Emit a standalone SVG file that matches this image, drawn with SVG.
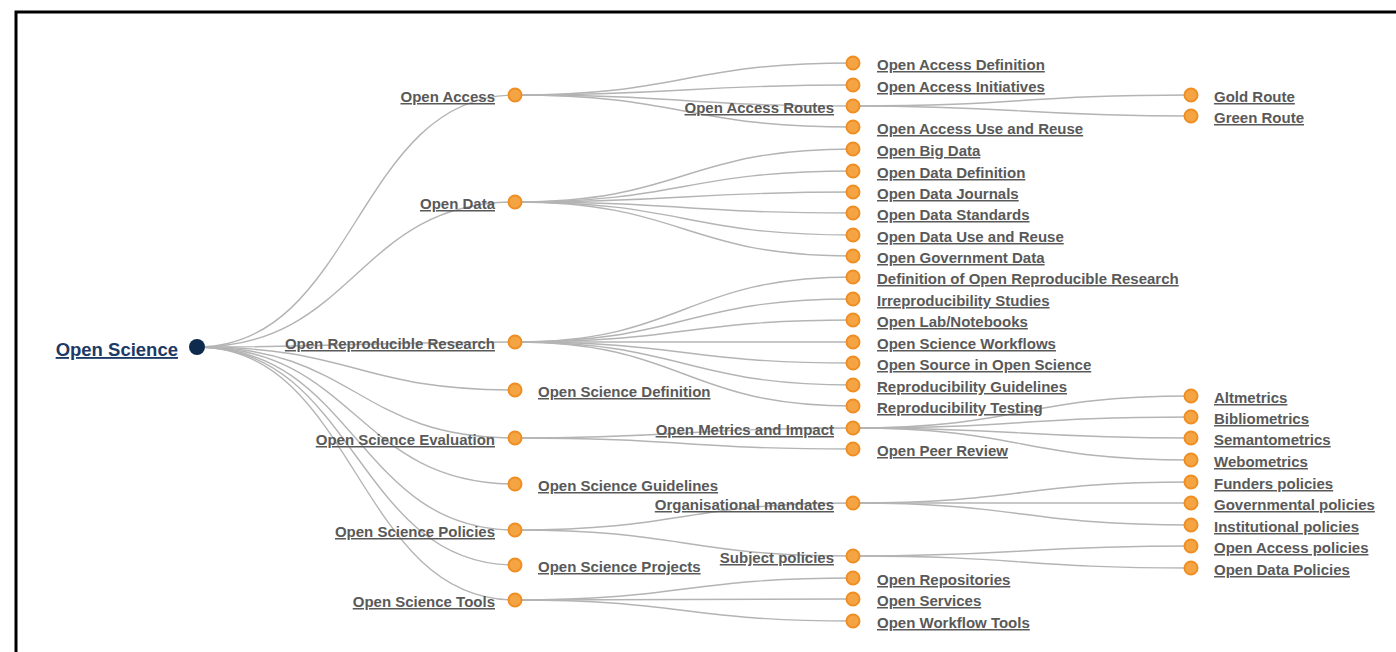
<svg xmlns="http://www.w3.org/2000/svg" width="1396" height="652" viewBox="0 0 1396 652">
<style>
.lk{fill:none;stroke:#b4b4b4;stroke-width:1.4}
.n circle{fill:#f5a443;stroke:#ef8e22;stroke-width:2}
.n text{font-family:"Liberation Sans",Arial,sans-serif;font-size:15px;font-weight:bold;fill:#595959;text-decoration:underline}
.l{text-anchor:start}
.r{text-anchor:end}
</style>
<rect x="0" y="0" width="1396" height="652" fill="#fff"/>
<path d="M16,652 V12 H1396" fill="none" stroke="#000" stroke-width="3"/>
<g id="connectors">
<path class="lk" d="M197,347 C356,347 356,95 515,95"/>
<path class="lk" d="M197,347 C356,347 356,202 515,202"/>
<path class="lk" d="M197,347 C356,347 356,342 515,342"/>
<path class="lk" d="M197,347 C356,347 356,390 515,390"/>
<path class="lk" d="M197,347 C356,347 356,438 515,438"/>
<path class="lk" d="M197,347 C356,347 356,484 515,484"/>
<path class="lk" d="M197,347 C356,347 356,530 515,530"/>
<path class="lk" d="M197,347 C356,347 356,565 515,565"/>
<path class="lk" d="M197,347 C356,347 356,600 515,600"/>
<path class="lk" d="M515,95 C684,95 684,63 853,63"/>
<path class="lk" d="M515,95 C684,95 684,85 853,85"/>
<path class="lk" d="M515,95 C684,95 684,106 853,106"/>
<path class="lk" d="M515,95 C684,95 684,127 853,127"/>
<path class="lk" d="M853,106 C1022,106 1022,95 1191,95"/>
<path class="lk" d="M853,106 C1022,106 1022,116 1191,116"/>
<path class="lk" d="M515,202 C684,202 684,149 853,149"/>
<path class="lk" d="M515,202 C684,202 684,171 853,171"/>
<path class="lk" d="M515,202 C684,202 684,192 853,192"/>
<path class="lk" d="M515,202 C684,202 684,213 853,213"/>
<path class="lk" d="M515,202 C684,202 684,235 853,235"/>
<path class="lk" d="M515,202 C684,202 684,256 853,256"/>
<path class="lk" d="M515,342 C684,342 684,277 853,277"/>
<path class="lk" d="M515,342 C684,342 684,299 853,299"/>
<path class="lk" d="M515,342 C684,342 684,320 853,320"/>
<path class="lk" d="M515,342 C684,342 684,342 853,342"/>
<path class="lk" d="M515,342 C684,342 684,363 853,363"/>
<path class="lk" d="M515,342 C684,342 684,385 853,385"/>
<path class="lk" d="M515,342 C684,342 684,406 853,406"/>
<path class="lk" d="M515,438 C684,438 684,428 853,428"/>
<path class="lk" d="M515,438 C684,438 684,449 853,449"/>
<path class="lk" d="M853,428 C1022,428 1022,396 1191,396"/>
<path class="lk" d="M853,428 C1022,428 1022,417 1191,417"/>
<path class="lk" d="M853,428 C1022,428 1022,438 1191,438"/>
<path class="lk" d="M853,428 C1022,428 1022,460 1191,460"/>
<path class="lk" d="M515,530 C684,530 684,503 853,503"/>
<path class="lk" d="M515,530 C684,530 684,556 853,556"/>
<path class="lk" d="M853,503 C1022,503 1022,482 1191,482"/>
<path class="lk" d="M853,503 C1022,503 1022,503 1191,503"/>
<path class="lk" d="M853,503 C1022,503 1022,525 1191,525"/>
<path class="lk" d="M853,556 C1022,556 1022,546 1191,546"/>
<path class="lk" d="M853,556 C1022,556 1022,568 1191,568"/>
<path class="lk" d="M515,600 C684,600 684,578 853,578"/>
<path class="lk" d="M515,600 C684,600 684,599 853,599"/>
<path class="lk" d="M515,600 C684,600 684,621 853,621"/>
</g>
<g id="root">
<circle cx="197" cy="347" r="8" fill="#0e2a4d"/>
<text x="178" y="356" text-anchor="end" font-family="Liberation Sans,Arial,sans-serif" font-size="18.5" font-weight="bold" fill="#1d3a66" text-decoration="underline">Open Science</text>
</g>
<g id="n-open-access" class="n"><circle cx="515" cy="95" r="6.5"/><text class="r" x="495" y="102">Open Access</text></g>
<g id="n-open-data" class="n"><circle cx="515" cy="202" r="6.5"/><text class="r" x="495" y="209">Open Data</text></g>
<g id="n-orr" class="n"><circle cx="515" cy="342" r="6.5"/><text class="r" x="495" y="349">Open Reproducible Research</text></g>
<g id="n-osd" class="n"><circle cx="515" cy="390" r="6.5"/><text class="l" x="538" y="397">Open Science Definition</text></g>
<g id="n-ose" class="n"><circle cx="515" cy="438" r="6.5"/><text class="r" x="495" y="445">Open Science Evaluation</text></g>
<g id="n-osg" class="n"><circle cx="515" cy="484" r="6.5"/><text class="l" x="538" y="491">Open Science Guidelines</text></g>
<g id="n-osp" class="n"><circle cx="515" cy="530" r="6.5"/><text class="r" x="495" y="537">Open Science Policies</text></g>
<g id="n-ospr" class="n"><circle cx="515" cy="565" r="6.5"/><text class="l" x="538" y="572">Open Science Projects</text></g>
<g id="n-ost" class="n"><circle cx="515" cy="600" r="6.5"/><text class="r" x="495" y="607">Open Science Tools</text></g>
<g id="n-oad" class="n"><circle cx="853" cy="63" r="6.5"/><text class="l" x="877" y="70">Open Access Definition</text></g>
<g id="n-oai" class="n"><circle cx="853" cy="85" r="6.5"/><text class="l" x="877" y="92">Open Access Initiatives</text></g>
<g id="n-oar" class="n"><circle cx="853" cy="106" r="6.5"/><text class="r" x="834" y="113">Open Access Routes</text></g>
<g id="n-oau" class="n"><circle cx="853" cy="127" r="6.5"/><text class="l" x="877" y="134">Open Access Use and Reuse</text></g>
<g id="n-obd" class="n"><circle cx="853" cy="149" r="6.5"/><text class="l" x="877" y="156">Open Big Data</text></g>
<g id="n-odd" class="n"><circle cx="853" cy="171" r="6.5"/><text class="l" x="877" y="178">Open Data Definition</text></g>
<g id="n-odj" class="n"><circle cx="853" cy="192" r="6.5"/><text class="l" x="877" y="199">Open Data Journals</text></g>
<g id="n-ods" class="n"><circle cx="853" cy="213" r="6.5"/><text class="l" x="877" y="220">Open Data Standards</text></g>
<g id="n-odu" class="n"><circle cx="853" cy="235" r="6.5"/><text class="l" x="877" y="242">Open Data Use and Reuse</text></g>
<g id="n-ogd" class="n"><circle cx="853" cy="256" r="6.5"/><text class="l" x="877" y="263">Open Government Data</text></g>
<g id="n-dorr" class="n"><circle cx="853" cy="277" r="6.5"/><text class="l" x="877" y="284">Definition of Open Reproducible Research</text></g>
<g id="n-irs" class="n"><circle cx="853" cy="299" r="6.5"/><text class="l" x="877" y="306">Irreproducibility Studies</text></g>
<g id="n-oln" class="n"><circle cx="853" cy="320" r="6.5"/><text class="l" x="877" y="327">Open Lab/Notebooks</text></g>
<g id="n-osw" class="n"><circle cx="853" cy="342" r="6.5"/><text class="l" x="877" y="349">Open Science Workflows</text></g>
<g id="n-osos" class="n"><circle cx="853" cy="363" r="6.5"/><text class="l" x="877" y="370">Open Source in Open Science</text></g>
<g id="n-rg" class="n"><circle cx="853" cy="385" r="6.5"/><text class="l" x="877" y="392">Reproducibility Guidelines</text></g>
<g id="n-rt" class="n"><circle cx="853" cy="406" r="6.5"/><text class="l" x="877" y="413">Reproducibility Testing</text></g>
<g id="n-omi" class="n"><circle cx="853" cy="428" r="6.5"/><text class="r" x="834" y="435">Open Metrics and Impact</text></g>
<g id="n-opr" class="n"><circle cx="853" cy="449" r="6.5"/><text class="l" x="877" y="456">Open Peer Review</text></g>
<g id="n-om" class="n"><circle cx="853" cy="503" r="6.5"/><text class="r" x="834" y="510">Organisational mandates</text></g>
<g id="n-sp" class="n"><circle cx="853" cy="556" r="6.5"/><text class="r" x="834" y="563">Subject policies</text></g>
<g id="n-orep" class="n"><circle cx="853" cy="578" r="6.5"/><text class="l" x="877" y="585">Open Repositories</text></g>
<g id="n-oserv" class="n"><circle cx="853" cy="599" r="6.5"/><text class="l" x="877" y="606">Open Services</text></g>
<g id="n-owt" class="n"><circle cx="853" cy="621" r="6.5"/><text class="l" x="877" y="628">Open Workflow Tools</text></g>
<g id="n-gold" class="n"><circle cx="1191" cy="95" r="6.5"/><text class="l" x="1214" y="102">Gold Route</text></g>
<g id="n-green" class="n"><circle cx="1191" cy="116" r="6.5"/><text class="l" x="1214" y="123">Green Route</text></g>
<g id="n-alt" class="n"><circle cx="1191" cy="396" r="6.5"/><text class="l" x="1214" y="403">Altmetrics</text></g>
<g id="n-bib" class="n"><circle cx="1191" cy="417" r="6.5"/><text class="l" x="1214" y="424">Bibliometrics</text></g>
<g id="n-sem" class="n"><circle cx="1191" cy="438" r="6.5"/><text class="l" x="1214" y="445">Semantometrics</text></g>
<g id="n-web" class="n"><circle cx="1191" cy="460" r="6.5"/><text class="l" x="1214" y="467">Webometrics</text></g>
<g id="n-fund" class="n"><circle cx="1191" cy="482" r="6.5"/><text class="l" x="1214" y="489">Funders policies</text></g>
<g id="n-gov" class="n"><circle cx="1191" cy="503" r="6.5"/><text class="l" x="1214" y="510">Governmental policies</text></g>
<g id="n-inst" class="n"><circle cx="1191" cy="525" r="6.5"/><text class="l" x="1214" y="532">Institutional policies</text></g>
<g id="n-oap" class="n"><circle cx="1191" cy="546" r="6.5"/><text class="l" x="1214" y="553">Open Access policies</text></g>
<g id="n-odp" class="n"><circle cx="1191" cy="568" r="6.5"/><text class="l" x="1214" y="575">Open Data Policies</text></g>
</svg>
